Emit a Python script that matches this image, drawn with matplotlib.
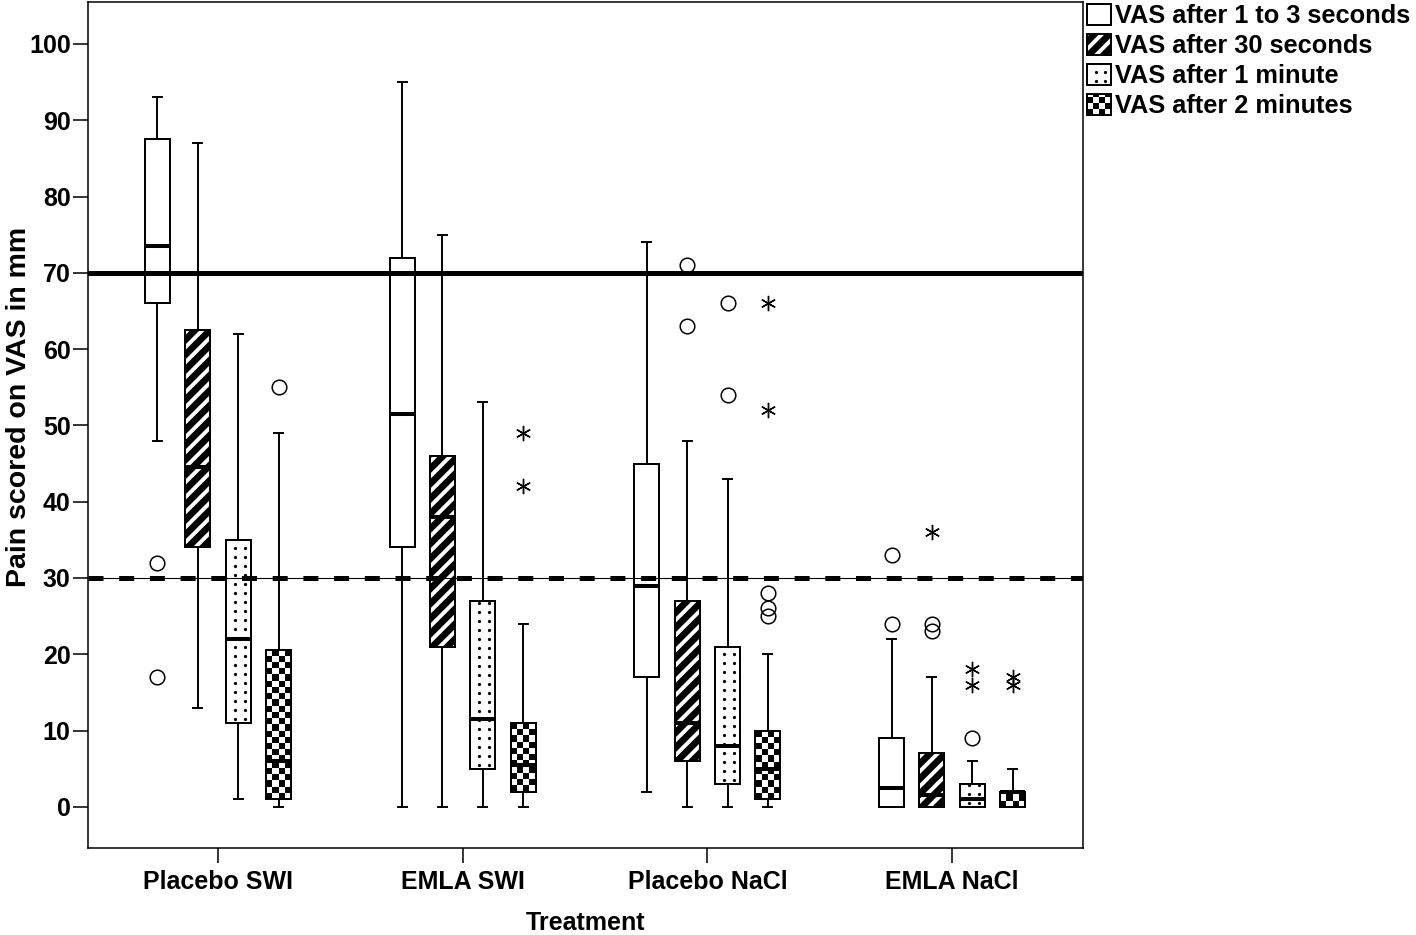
import numpy as np
import matplotlib
matplotlib.use("Agg")
import matplotlib.pyplot as plt
from matplotlib.lines import Line2D
from matplotlib.patches import Rectangle, PathPatch
from matplotlib.collections import PatchCollection
from matplotlib.transforms import IdentityTransform

plt.rcParams['font.family'] = ['Liberation Sans', 'DejaVu Sans']
plt.rcParams['font.weight'] = 'bold'

treatments = ["Placebo SWI", "EMLA SWI", "Placebo NaCl", "EMLA NaCl"]
times = ["VAS after 1 to 3 seconds", "VAS after 30 seconds",
         "VAS after 1 minute", "VAS after 2 minutes"]
patterns = ["none", "stripes", "dots", "checker"]

# rows = treatment, cols = time point
whislo = [[48, 13, 1, 0], [0, 0, 0, 0], [2, 0, 0, 0], [0, 0, 0, 0]]
q1 = [[66, 34, 11, 1], [34, 21, 5, 2], [17, 6, 3, 1], [0, 0, 0, 0]]
med = [[73.5, 44.5, 22, 6], [51.5, 38, 11.5, 5.5], [29, 11, 8, 5], [2.5, 1.5, 1, 1.9]]
q3 = [[87.5, 62.5, 35, 20.5], [72, 46, 27, 11], [45, 27, 21, 10], [9, 7, 3, 2]]
whishi = [[93, 87, 62, 49], [95, 75, 53, 24], [74, 48, 43, 20], [22, 17, 6, 5]]
outliers = [[[32, 17], [], [], [55]],
            [[], [], [], []],
            [[], [71, 63], [66, 54], [28, 26, 25]],
            [[33, 24], [24, 23], [9], []]]
extremes = [[[], [], [], []],
            [[], [], [], [49, 42]],
            [[], [], [], [66, 52]],
            [[], [36], [18, 16], [17, 16]]]

offsets = [-0.2475, -0.0825, 0.0825, 0.2475]
box_w = 0.102


def make_pattern(kind, x0, y0, x1, y1, sx, sy, transform, clip, z):
    # sx, sy: pixels per unit in the given coordinate system
    arts = []
    if kind == "stripes":
        p = 15.0 / sy
        m = sx / sy
        for c in np.arange(y0 - m * (x1 - x0), y1 + p, p):
            ln = Line2D([x0, x1], [c, c + m * (x1 - x0)], color="white", lw=2.8,
                        transform=transform, zorder=z)
            arts.append(ln)
    elif kind == "dots":
        xs, ys = [], []
        for y in np.arange(y0 + 4.0 / sy, y1, 9.0 / sy):
            for f in (0.36, 0.76):
                xs.append(x0 + (x1 - x0) * f)
                ys.append(y)
        arts.append(Line2D(xs, ys, ls="none", marker="o", ms=1.3, color="black",
                           transform=transform, zorder=z))
    elif kind == "checker":
        cw = (x1 - x0) / 4
        ch = cw * sx / sy
        rects = []
        nrows = int(np.ceil((y1 - y0) / ch)) + 1
        for r in range(nrows):
            for c in range(4):
                if (r + c) % 2 == 0:
                    rects.append(Rectangle((x0 + c * cw, y0 + r * ch), cw, ch))
        arts.append(PatchCollection(rects, facecolor="black", edgecolor="none",
                                    transform=transform, zorder=z))
    for a in arts:
        a.set_clip_path(clip)
    return arts


fig = plt.figure(figsize=(14.16, 9.35), dpi=100)
ax = fig.add_axes([88 / 1416, 1 - 848 / 935, (1083 - 88) / 1416, (848 - 2) / 935])
ax.set_xlim(0.469, 4.535)
ax.set_ylim(-5.4, 105.5)
ax.autoscale(False)

stats, pos = [], []
for i in range(4):
    for j in range(4):
        stats.append(dict(med=med[i][j], q1=q1[i][j], q3=q3[i][j],
                          whislo=whislo[i][j], whishi=whishi[i][j],
                          fliers=outliers[i][j]))
        pos.append(i + 1 + offsets[j])

art = ax.bxp(stats, positions=pos, widths=box_w, capwidths=0.037,
             patch_artist=True, manage_ticks=False,
             boxprops=dict(facecolor="white", edgecolor="black", linewidth=1.4),
             medianprops=dict(color="black", linewidth=2.9),
             whiskerprops=dict(color="black", linewidth=1.4),
             capprops=dict(color="black", linewidth=1.4),
             flierprops=dict(marker="o", markerfacecolor="none",
                             markeredgecolor="black", markersize=10.5,
                             markeredgewidth=1.1))

p0 = ax.transData.transform((0, 0))
p1 = ax.transData.transform((1, 1))
sx, sy = p1[0] - p0[0], p1[1] - p0[1]

k = 0
for i in range(4):
    for j in range(4):
        box = art["boxes"][k]
        if patterns[j] == "stripes":
            box.set_facecolor("black")
        x0 = pos[k] - box_w / 2
        for a in make_pattern(patterns[j], x0, q1[i][j], x0 + box_w, q3[i][j],
                              sx, sy, ax.transData, box, 2.03):
            ax.add_artist(a)
        ax.add_patch(PathPatch(box.get_path(), facecolor="none", edgecolor="black",
                               linewidth=1.4, zorder=2.06))
        ext = extremes[i][j]
        if ext:
            ax.plot([pos[k]] * len(ext), ext, ls="none", marker=(6, 2, 0),
                    ms=11, mew=1.0, color="black", zorder=3)
        k += 1

# reference lines
ax.axhline(70, color="black", lw=3.6, zorder=2.5)
ax.axhline(30, color="black", lw=0.8, zorder=2.5)
ax.axhline(30, color="black", lw=3.6, ls=(0, (3.0, 3.14)), zorder=2.5)

ax.set_xticks([1, 2, 3, 4], treatments)
ax.set_yticks(range(0, 101, 10))
ax.tick_params(axis="both", direction="out", length=11, width=1.1, labelsize=18)
ax.tick_params(axis="x", pad=5)
ax.tick_params(axis="y", pad=1.5)
for s in ax.spines.values():
    s.set_linewidth(1.1)

ax.set_xlabel("Treatment", fontsize=18, fontweight="bold")
ax.xaxis.set_label_coords(0.5, -0.074)
ax.set_ylabel("Pain scored on VAS in mm", fontsize=20.5, fontweight="bold")
ax.yaxis.set_label_coords(-0.056, 0.521)

handles = [Rectangle((0, 0), 1, 1, facecolor="black" if p == "stripes" else "white",
                     edgecolor="black", linewidth=1.4) for p in patterns]
leg = fig.legend(handles, times, loc="upper left",
                 bbox_to_anchor=(1087 / 1416, 1 - 4 / 935), frameon=False,
                 fontsize=18.3, handlelength=0.95, handleheight=0.9,
                 handletextpad=0.15, labelspacing=0.22, borderpad=0,
                 borderaxespad=0)

fig.canvas.draw()
renderer = fig.canvas.get_renderer()
for p, h in zip(patterns, leg.get_patches()):
    bb = h.get_window_extent(renderer)
    clip = Rectangle((bb.x0, bb.y0), bb.width, bb.height, transform=IdentityTransform())
    for a in make_pattern(p, bb.x0, bb.y0, bb.x1, bb.y1, 1.0, 1.0,
                          IdentityTransform(), clip, 6):
        fig.add_artist(a)
    fig.add_artist(Rectangle((bb.x0, bb.y0), bb.width, bb.height, facecolor="none",
                             edgecolor="black", linewidth=1.4,
                             transform=IdentityTransform(), zorder=7))

fig.savefig("out.png", dpi=100)
